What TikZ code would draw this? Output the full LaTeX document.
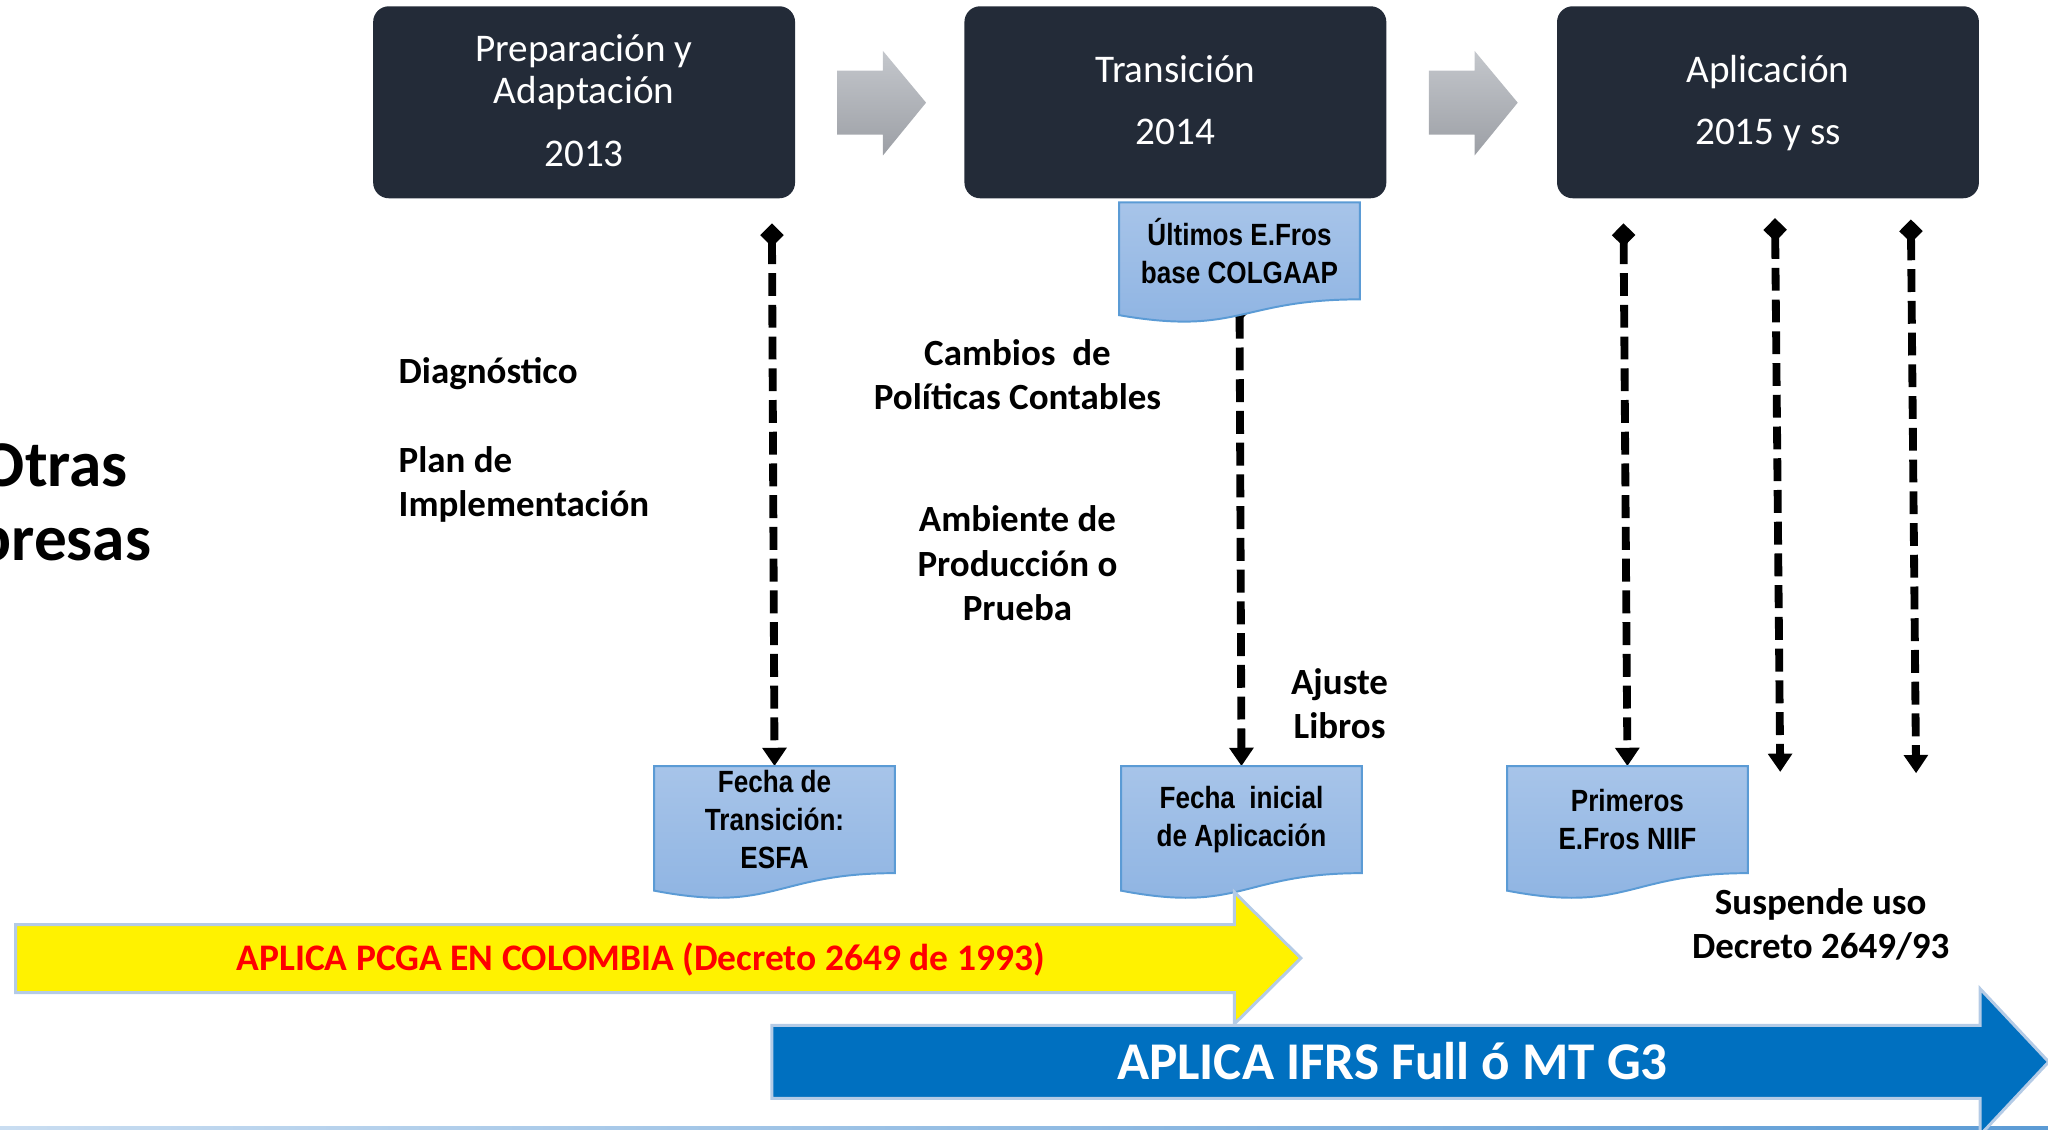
\documentclass[tikz,border=0pt]{standalone}
\usepackage{fontspec}
\setmainfont{Carlito}
\newfontfamily\docfont[FakeStretch=0.85]{Liberation Sans}
\usetikzlibrary{arrows.meta,calc}
\definecolor{boxdark}{HTML}{232B38}
\definecolor{greytop}{HTML}{C4C7CC}
\definecolor{greybot}{HTML}{9C9FA5}
\definecolor{doctop}{HTML}{A7C4E9}
\definecolor{docbot}{HTML}{8DB3E2}
\definecolor{docedge}{HTML}{5B9BD5}
\definecolor{arrowedge}{HTML}{B4CBE6}
\definecolor{ifrsblue}{HTML}{0070C0}
\definecolor{pcgared}{HTML}{FF0000}
\definecolor{linelight}{HTML}{C9DDF1}
\definecolor{lineblue}{HTML}{5B9BD5}
\pgfdeclarelayer{lines}
\pgfdeclarelayer{docbg}
\pgfsetlayers{lines,docbg,main}
\tikzset{
  phase/.style={fill=boxdark, rounded corners=12pt, minimum width=323pt, minimum height=147pt,
    inner sep=0pt, text=white, align=center, font=\fontsize{30}{31.9}\selectfont},
  docnode/.style={minimum width=184pt, inner sep=0pt, align=center,
    font=\docfont\bfseries\fontsize{23.5}{29.2}\selectfont},
  docshape/.style={top color=doctop, bottom color=docbot, draw=docedge, line width=1.5pt},
  body/.style={inner sep=0pt, font=\bfseries\fontsize{28.3}{33.9}\selectfont},
  milestone/.style={line width=6pt, dash pattern=on 17.5pt off 6.8pt,
    {Diamond[length=18pt,width=18pt]}-{Triangle[length=14pt,width=18pt]}},
  blockarrow/.style={top color=greytop, bottom color=greybot, draw=none},
  bandarrow/.style={draw=arrowedge, line width=2.3pt},
}
\newcommand\docpath[3]{% node, full height, extra
  \path[docshape] (#1.north west) -- (#1.north east) -- (#1.south east)
    .. controls (#1.south) and ($(#1.south)+(0,#2)$) .. ($(#1.south west)+(0,#3)$) -- cycle;}
\newcommand\topstrut{\rule{0pt}{27pt}}
\begin{document}
\begin{tikzpicture}[x=1pt,y=-1pt]
\useasboundingbox (0,0) rectangle (1568,864.5);

% bottom rule
\shade[left color=linelight, middle color=lineblue, right color=lineblue] (0,862.5) rectangle (1568,864.5);

% phase boxes
\node[phase] (b1) at (447.2,78.3) {\topstrut Preparación y\\Adaptación\\[16.6pt]2013\rule[-8.8pt]{0pt}{8.8pt}};
\node[phase] (b2) at (899.9,78.3) {\topstrut Transición\\[15.8pt]2014\rule[-9.3pt]{0pt}{9.3pt}};
\node[phase] (b3) at (1353.6,78.3) {\topstrut Aplicación\\[15.8pt]2015 y ss\rule[-9.3pt]{0pt}{9.3pt}};

% grey block arrows between phases
\path[blockarrow] (641,54) -- (676,54) -- (676,39) -- (709,78.6) -- (676,119) -- (676,103) -- (641,103) -- cycle;
\path[blockarrow] (1094,54) -- (1129,54) -- (1129,39) -- (1162,78.6) -- (1129,119) -- (1129,103) -- (1094,103) -- cycle;

% documents
\node[docnode, minimum height=73.8pt, anchor=north] (d0) at (949,155) {Últimos E.Fros\\base COLGAAP};
\node[docnode, minimum height=81.6pt, anchor=north] (d1) at (593,586.5) {Fecha de\\Transición:\\ESFA};
\node[docnode, minimum height=81.6pt, anchor=north] (d2) at (950.5,586.5) {Fecha\ \ inicial\\de Aplicación};
\node[docnode, minimum height=81.6pt, anchor=north] (d3) at (1246,586.5) {Primeros\\E.Fros NIIF};
\begin{pgfonlayer}{docbg}
  \docpath{d0}{28.1}{12.1}
  \docpath{d1}{31.1}{13.4}
  \docpath{d2}{31.1}{13.4}
  \docpath{d3}{31.1}{13.4}
\end{pgfonlayer}

% milestone connectors
\coordinate (m1top) at (591,171);
\coordinate (m2top) at (949,228);
\coordinate (m3top) at (1243,171);
\coordinate (m4top) at (1359,167);
\coordinate (m4end) at (1363,591);
\coordinate (m5top) at (1463,168);
\coordinate (m5end) at (1467,592);
\begin{pgfonlayer}{lines}
  \draw[milestone] (m1top) -- (d1.north);
  \draw[milestone] (m2top) -- (d2.north);
  \draw[milestone] (m3top) -- (d3.north);
  \draw[milestone] (m4top) -- (m4end);
  \draw[milestone] (m5top) -- (m5end);
\end{pgfonlayer}

% activity texts
\node[inner sep=0pt, anchor=base east, font=\bfseries\fontsize{50}{56}\selectfont] (otras) at (98,372.6) {Otras};
\node[inner sep=0pt, anchor=base east, font=\bfseries\fontsize{50}{56}\selectfont] (empresas) at (116,428.8) {Empresas};
\node[body, anchor=base west] (diag) at (305,293.5) {Diagnóstico};
\node[body, anchor=north west, align=left] (plan) at (305,337.2) {\rule{0pt}{24pt}Plan de\\Implementación};
\node[body, anchor=north, align=center] (cambios) at (779,255.5) {\rule{0pt}{24pt}Cambios\ \ de\\Políticas Contables};
\node[body, anchor=north, align=center] (ambiente) at (779,383.1) {\rule{0pt}{24pt}Ambiente de\\Producción o\\Prueba};
\node[body, anchor=north, align=center] (ajuste) at (1025.6,507.4) {\rule{0pt}{24pt}Ajuste\\Libros};
\node[body, anchor=north, align=center] (suspende) at (1394,675.8) {\rule{0pt}{24pt}Suspende uso\\Decreto 2649/93};

% band arrows
\path[bandarrow, fill=yellow] (12,708) -- (945,708) -- (945,683) -- (996,733.6) -- (945,784) -- (945,760) -- (12,760) -- cycle;
\node[inner sep=0pt, anchor=base, text=pcgared, font=\bfseries\fontsize{28.7}{34}\selectfont] (pcga) at (490.5,743.2) {APLICA PCGA EN COLOMBIA (Decreto 2649 de 1993)};
\path[bandarrow, fill=ifrsblue] (591,785) -- (1516,785) -- (1516,757) -- (1568.5,813) -- (1516,869) -- (1516,841) -- (591,841) -- cycle;
\node[inner sep=0pt, anchor=base, text=white, font=\bfseries\fontsize{40.6}{48}\selectfont] (ifrs) at (1066,826.4) {APLICA IFRS Full ó MT G3};
\end{tikzpicture}
\end{document}
